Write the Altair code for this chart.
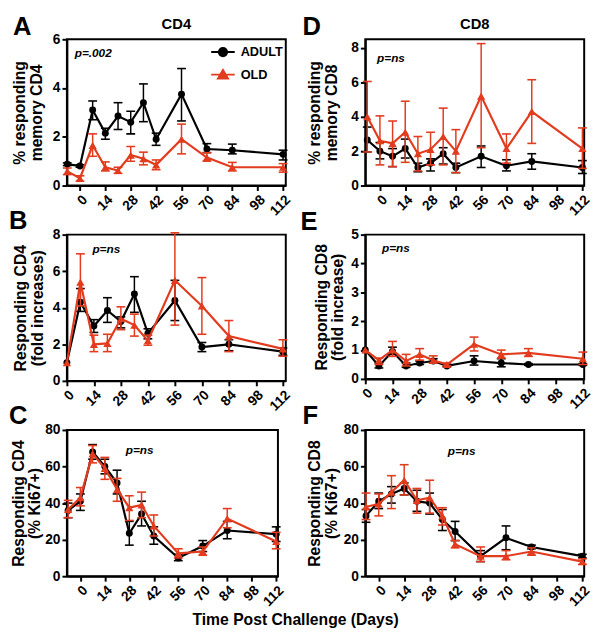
import altair as alt
import pandas as pd

RED = "#e23b1e"
FONT = "Liberation Sans"

# ---------------- data ----------------
days_long = [-7, 0, 7, 14, 21, 28, 35, 42, 56, 70, 84, 112]
days_short = [0, 7, 14, 21, 28, 35, 42, 56, 70, 84, 112]
x_ticks = [0, 14, 28, 42, 56, 70, 84, 98, 112]

A_adult_mean = [0.88, 0.8, 3.1, 2.15, 2.85, 2.6, 3.4, 1.9, 3.75, 1.5, 1.45, 1.28]
A_adult_lo = [0.82, 0.75, 2.7, 1.9, 2.3, 2.12, 2.62, 1.65, 2.65, 1.35, 1.3, 1.05]
A_adult_hi = [0.93, 0.85, 3.47, 2.35, 3.4, 3.05, 4.17, 2.15, 4.8, 1.72, 1.7, 1.45]
A_old_mean = [0.58, 0.3, 1.65, 0.75, 0.62, 1.25, 1.1, 0.85, 1.9, 1.15, 0.75, 0.75]
A_old_lo = [0.45, 0.18, 1.2, 0.6, 0.5, 1.0, 0.85, 0.65, 1.3, 1.0, 0.6, 0.55]
A_old_hi = [0.72, 0.4, 2.12, 0.97, 0.75, 1.6, 1.37, 1.05, 2.52, 1.35, 0.95, 0.9]

B_adult_mean = [1.0, 4.3, 3.0, 3.85, 3.25, 4.75, 2.6, 4.4, 1.85, 2.0, 1.6]
B_adult_lo = [None, 3.8, 2.65, 3.2, 2.9, 3.75, 2.3, 3.3, 1.6, 1.65, 1.4]
B_adult_hi = [None, 5.05, 3.35, 4.55, 3.5, 5.7, 2.85, 5.5, 2.1, 2.25, 1.8]
B_old_mean = [1.0, 5.4, 2.0, 2.05, 3.4, 3.05, 2.2, 5.5, 4.1, 2.45, 1.75]
B_old_lo = [None, 4.1, 1.6, 1.6, 2.8, 2.45, 1.95, 3.05, 2.55, 1.6, 1.35]
B_old_hi = [None, 6.95, 2.5, 2.55, 4.05, 3.65, 2.5, 8.1, 5.65, 3.3, 2.25]

C_adult_mean = [36, 41, 68, 60, 51, 23.5, 34, 22, 10, 16.5, 25, 23]
C_adult_lo = [32, 36, 64, 56, 45, 17, 27.5, 17.5, 8.5, 13.5, 20.5, 19]
C_adult_hi = [40, 45, 72, 64, 58, 30, 41, 27, 12, 19.5, 30, 27]
C_old_mean = [36.5, 43, 67, 59, 47.5, 37.5, 39, 27.5, 12.5, 13.5, 31.5, 19]
C_old_lo = [32, 38.5, 62, 53, 41, 30.5, 32, 22, 10, 11.5, 26.5, 15]
C_old_hi = [41.5, 48.5, 71.5, 65, 53.5, 44, 46, 33.5, 15, 16, 37, 24]

D_adult_mean = [2.65, 2.0, 1.7, 2.15, 1.05, 1.3, 1.85, 1.05, 1.7, 1.15, 1.4, 1.05]
D_adult_lo = [1.95, 1.55, 1.1, 1.6, 0.8, 0.85, 1.25, 0.75, 1.05, 0.85, 0.95, 0.7]
D_adult_hi = [3.4, 2.5, 2.15, 2.7, 1.3, 1.55, 2.2, 1.3, 2.3, 1.5, 1.85, 1.45]
D_old_mean = [4.0, 2.6, 2.45, 3.1, 1.85, 2.1, 2.85, 2.0, 5.2, 2.15, 4.3, 2.15]
D_old_lo = [1.95, 1.2, 1.1, 1.35, 0.85, 1.2, 1.2, 0.75, 2.2, 1.3, 2.45, 1.0]
D_old_hi = [6.05, 4.05, 3.75, 4.9, 2.85, 3.1, 4.5, 3.25, 8.25, 3.0, 6.15, 3.35]

E_adult_mean = [1.0, 0.45, 0.95, 0.45, 0.55, 0.62, 0.45, 0.62, 0.55, 0.5, 0.5]
E_adult_lo = [None, 0.38, 0.85, 0.4, 0.5, 0.55, 0.42, 0.48, 0.42, 0.47, 0.47]
E_adult_hi = [None, 0.55, 1.1, 0.55, 0.62, 0.7, 0.5, 0.8, 0.7, 0.53, 0.53]
E_old_mean = [1.0, 0.65, 1.0, 0.62, 0.85, 0.65, 0.5, 1.2, 0.85, 0.9, 0.7]
E_old_lo = [None, 0.5, 0.78, 0.45, 0.65, 0.55, 0.45, 0.97, 0.72, 0.78, 0.5]
E_old_hi = [None, 0.72, 1.3, 0.85, 1.05, 0.8, 0.55, 1.45, 1.0, 1.05, 0.93]

F_adult_mean = [33, 41, 45, 48, 41, 40, 31, 24.5, 11, 21, 16, 11]
F_adult_lo = [29.5, 37, 40, 44.5, 35.5, 34, 25, 19.5, 8, 14.5, 15, 10]
F_adult_hi = [36.5, 45.5, 49, 51, 47, 45.5, 36.5, 30, 14, 27.5, 17, 12]
F_old_mean = [38, 39.5, 46, 52.5, 41.5, 43, 33, 17.5, 11, 11, 13.5, 8]
F_old_lo = [31, 33, 37, 44.5, 34.5, 34.5, 28, 15.5, 8, 9, 11.5, 6.5]
F_old_hi = [45.5, 45, 55, 61, 48, 52.5, 37.5, 19.5, 16, 14, 15.5, 9.5]

groups = ["ADULT", "OLD"]
CIRCLE_PATH = "M-2,0H2M0.7,0A0.7,0.7,0,1,1,-0.7,0A0.7,0.7,0,1,1,0.7,0Z"
TRI_PATH = "M-2,0H2M0,-0.8L0.85,0.65L-0.85,0.65Z"


def frame(days, adult, old):
    recs = []
    for g, (m, lo, hi) in zip(groups, [adult, old]):
        for d, a, b, c in zip(days, m, lo, hi):
            recs.append({"group": g, "day": d, "mean": a, "lo": b, "hi": c})
    return pd.DataFrame(recs)


def text_layer(t, xy, **kw):
    return alt.Chart(pd.DataFrame({"t": [t]})).mark_text(font=FONT, color="black", **kw).encode(
        x=alt.value(xy[0]), y=alt.value(xy[1]), text="t:N")


def panel(days, adult, old, xdom, ydom, yticks, ytitle, tpad, w, h,
          note, note_xy, letter, letter_xy, title=None, legend=False, extra=None):
    df = frame(days, adult, old)
    base = alt.Chart(df)
    xax = alt.Axis(values=x_ticks, title=None, labelAngle=-45, labelOverlap=False)
    x = alt.X("day:Q", scale=alt.Scale(domain=xdom, nice=False, zero=False), axis=xax)
    yscale = alt.Scale(domain=ydom, nice=False, zero=True)
    yax = alt.Axis(values=yticks, title=ytitle, labelOverlap=False, titlePadding=tpad)

    def Y(f):
        return alt.Y(f"{f}:Q", scale=yscale, axis=yax)

    layers = []
    for g, color, shape, size in [("ADULT", "black", "circle", 50),
                                  ("OLD", RED, "triangle-up", 70)]:
        b = base.transform_filter(alt.datum.group == g)
        layers.append(b.mark_line(color=color, strokeWidth=2.2).encode(x=x, y=Y("mean")))
        layers.append(b.mark_rule(color=color, strokeWidth=1.5).encode(
            x=x, y=Y("lo"), y2="hi:Q"))
        for f in ["lo", "hi"]:
            layers.append(b.mark_tick(color=color, orient="horizontal", size=9,
                                      thickness=1.6, opacity=1).encode(x=x, y=Y(f)))
        layers.append(b.mark_point(filled=True, opacity=1, shape=shape, size=size,
                                   color=color).encode(x=x, y=Y("mean")))
    if legend:
        lg = alt.Legend(orient="none", legendX=152, legendY=6, title=None,
                        labelFont=FONT, labelFontSize=13, labelFontWeight="bold",
                        labelColor="black", symbolSize=144, symbolStrokeWidth=2,
                        labelOffset=11, padding=0, rowPadding=5)
        layers.append(
            base.transform_filter("datum.mean < -1000").mark_point(filled=True, strokeWidth=2, opacity=1)
            .encode(
                x=x, y=Y("mean"),
                fill=alt.Fill("group:N", scale=alt.Scale(domain=groups, range=["black", RED]), legend=lg),
                stroke=alt.Stroke("group:N", scale=alt.Scale(domain=groups, range=["black", RED]), legend=lg),
                shape=alt.Shape("group:N", scale=alt.Scale(domain=groups, range=[CIRCLE_PATH, TRI_PATH]), legend=lg),
            )
        )
    layers.append(text_layer(note, note_xy, fontSize=12, fontWeight="bold", fontStyle="italic",
                             align="left", baseline="middle"))
    layers.append(text_layer(letter, letter_xy, fontSize=26, fontWeight="bold",
                             align="left", baseline="alphabetic"))
    if title:
        layers.append(text_layer(title, (w / 2, -10), fontSize=15, fontWeight="bold",
                                 align="center", baseline="alphabetic"))
    if extra is not None:
        layers.append(text_layer(extra[0], (extra[1], extra[2]), fontSize=16, fontWeight="bold",
                                 align="center", baseline="middle"))
    return alt.layer(*layers).properties(width=w, height=h)


pA = panel(days_long, (A_adult_mean, A_adult_lo, A_adult_hi), (A_old_mean, A_old_lo, A_old_hi),
           [-7.2, 113.5], [0, 6], [0, 2, 4, 6], ["% responding", "memory CD4"], 8, 223, 149,
           "p=.002", (8, 14), "A", (-55, -4), title="CD4", legend=True)
pD = panel(days_long, (D_adult_mean, D_adult_lo, D_adult_hi), (D_old_mean, D_old_lo, D_old_hi),
           [-8.1, 113], [0, 8.5], [0, 2, 4, 6, 8], ["% responding", "memory CD8"], 12, 223, 149,
           "p=ns", (12, 19), "D", (-64, -4), title="CD8")
pB = panel(days_short, (B_adult_mean, B_adult_lo, B_adult_hi), (B_old_mean, B_old_lo, B_old_hi),
           [0, 113.5], [0, 8], [0, 2, 4, 6, 8], ["Responding CD4", "(fold increases)"], 7, 223, 149,
           "p=ns", (26, 15), "B", (-59, -6))
pE = panel(days_short, (E_adult_mean, E_adult_lo, E_adult_hi), (E_old_mean, E_old_lo, E_old_hi),
           [0, 112.7], [0, 5], [0, 1, 2, 3, 4, 5], ["Responding CD8", "(fold increase)"], 5, 223, 147,
           "p=ns", (17, 14), "E", (-66, -5))
pC = panel(days_long, (C_adult_mean, C_adult_lo, C_adult_hi), (C_old_mean, C_old_lo, C_old_hi),
           [-7.7, 113], [0, 80], [0, 20, 40, 60, 80], ["Responding CD4", "(% Ki67+)"], 2, 215, 149,
           "p=ns", (60, 20), "C", (-59, -6), extra=("Time Post Challenge (Days)", 233, 194))
pF = panel(days_long, (F_adult_mean, F_adult_lo, F_adult_hi), (F_old_mean, F_old_lo, F_old_hi),
           [-7.4, 113], [0, 80], [0, 20, 40, 60, 80], ["Responding CD8", "(% Ki67+)"], 4, 223, 149,
           "p=ns", (84, 22), "F", (-64, -6))

chart = alt.concat(
    pA, pD, pB, pE, pC, pF, columns=2, bounds="flush", align="each",
    spacing={"row": 50, "column": 81},
).properties(padding={"left": 0, "top": 0, "right": 0, "bottom": 0}).configure_view(
    stroke="black", strokeWidth=2
).configure_axis(
    domainColor="black", domainWidth=2, tickColor="black", tickWidth=2, tickSize=5,
    labelFont=FONT, labelFontSize=14, labelFontWeight="bold", labelColor="black",
    titleFont=FONT, titleFontSize=16, titleFontWeight="bold", titleColor="black",
    grid=False, labelPadding=2, titleLineHeight=17,
)

chart.save("out.html", embed_options={"renderer": "svg", "actions": False})
